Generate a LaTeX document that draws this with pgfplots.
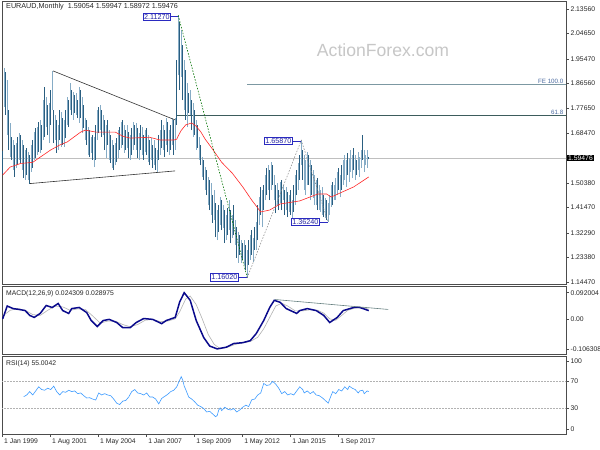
\documentclass[border=0pt]{standalone}
\usepackage{pgfplots}
\usepackage{pgfplotstable}
\pgfplotsset{compat=1.18}
\usepackage{fontspec}
\setmainfont{Liberation Sans}
\definecolor{barA}{HTML}{2A5E80}
\definecolor{barB}{HTML}{86ACC6}
\definecolor{maRed}{HTML}{FF2A2A}
\definecolor{boxBlue}{HTML}{2A2AC0}
\definecolor{lblBlue}{HTML}{4A6AA0}
\definecolor{fibo}{HTML}{3D5C5C}
\definecolor{fe}{HTML}{7C98A2}
\definecolor{macdNavy}{HTML}{0A0A8C}
\definecolor{rsiBlue}{HTML}{3C9BFF}
\newcommand{\tf}{\fontsize{6.8}{7.5}\selectfont}

\pgfplotstableread{
i l h
0 1.537 1.620
1 1.780 1.921
2 1.751 1.907
3 1.678 1.878
4 1.624 1.769
5 1.598 1.722
6 1.588 1.671
7 1.551 1.660
8 1.526 1.642
9 1.559 1.649
10 1.569 1.671
11 1.588 1.685
12 1.577 1.678
13 1.551 1.660
14 1.522 1.642
15 1.515 1.624
16 1.533 1.631
17 1.515 1.617
18 1.502 1.606
19 1.544 1.642
20 1.559 1.660
21 1.588 1.689
22 1.595 1.704
23 1.606 1.707
24 1.617 1.725
25 1.613 1.733
26 1.624 1.715
27 1.660 1.805
28 1.671 1.852
29 1.707 1.816
30 1.678 1.787
31 1.649 1.794
32 1.715 1.842
33 1.769 1.911
34 1.649 1.769
35 1.660 1.751
36 1.613 1.733
37 1.624 1.715
38 1.660 1.769
39 1.635 1.762
40 1.642 1.740
41 1.635 1.733
42 1.667 1.769
43 1.715 1.816
44 1.707 1.805
45 1.769 1.867
46 1.751 1.842
47 1.733 1.834
48 1.758 1.823
49 1.751 1.831
50 1.740 1.805
51 1.722 1.852
52 1.740 1.842
53 1.685 1.816
54 1.704 1.787
55 1.660 1.740
56 1.642 1.733
57 1.606 1.707
58 1.598 1.696
59 1.613 1.671
60 1.588 1.678
61 1.562 1.671
62 1.588 1.715
63 1.660 1.769
64 1.685 1.780
65 1.696 1.787
66 1.671 1.769
67 1.678 1.751
68 1.624 1.733
69 1.595 1.715
70 1.642 1.733
71 1.588 1.696
72 1.577 1.678
73 1.559 1.660
74 1.551 1.642
75 1.569 1.649
76 1.580 1.667
77 1.595 1.696
78 1.624 1.707
79 1.631 1.725
80 1.642 1.733
81 1.613 1.715
82 1.624 1.696
83 1.631 1.715
84 1.595 1.689
85 1.588 1.678
86 1.606 1.704
87 1.624 1.725
88 1.642 1.715
89 1.624 1.722
90 1.595 1.704
91 1.588 1.685
92 1.624 1.715
93 1.606 1.707
94 1.588 1.678
95 1.617 1.696
96 1.606 1.704
97 1.580 1.678
98 1.569 1.660
99 1.588 1.667
100 1.559 1.642
101 1.569 1.660
102 1.551 1.631
103 1.544 1.624
104 1.588 1.678
105 1.606 1.696
106 1.631 1.733
107 1.624 1.715
108 1.598 1.696
109 1.642 1.740
110 1.617 1.725
111 1.606 1.696
112 1.624 1.715
113 1.642 1.740
114 1.606 1.733
115 1.624 1.740
116 1.715 1.951
117 1.896 2.1127
118 1.842 2.089
119 1.889 2.059
120 1.805 2.005
121 1.769 1.951
122 1.733 1.914
123 1.707 1.867
124 1.758 1.831
125 1.751 1.842
126 1.696 1.805
127 1.671 1.794
128 1.678 1.769
129 1.624 1.733
130 1.631 1.715
131 1.588 1.671
132 1.569 1.642
133 1.526 1.598
134 1.515 1.588
135 1.479 1.562
136 1.460 1.551
137 1.424 1.526
138 1.406 1.515
139 1.388 1.504
140 1.359 1.460
141 1.370 1.479
142 1.308 1.431
143 1.297 1.406
144 1.326 1.424
145 1.352 1.453
146 1.333 1.442
147 1.341 1.424
148 1.286 1.406
149 1.297 1.388
150 1.315 1.413
151 1.333 1.442
152 1.286 1.406
153 1.304 1.388
154 1.315 1.424
155 1.279 1.370
156 1.232 1.344
157 1.214 1.326
158 1.243 1.315
159 1.214 1.297
160 1.225 1.286
161 1.206 1.297
162 1.188 1.279
163 1.1602 1.261
164 1.206 1.297
165 1.225 1.315
166 1.243 1.333
167 1.217 1.304
168 1.261 1.344
169 1.261 1.362
170 1.297 1.424
171 1.352 1.453
172 1.388 1.489
173 1.344 1.479
174 1.406 1.497
175 1.442 1.533
176 1.460 1.558
177 1.479 1.569
178 1.442 1.551
179 1.479 1.580
180 1.497 1.569
181 1.442 1.533
182 1.395 1.497
183 1.424 1.504
184 1.406 1.479
185 1.431 1.508
186 1.406 1.515
187 1.442 1.497
188 1.388 1.479
189 1.406 1.489
190 1.380 1.471
191 1.399 1.460
192 1.388 1.479
193 1.370 1.442
194 1.399 1.497
195 1.424 1.533
196 1.460 1.551
197 1.479 1.577
198 1.515 1.606
199 1.569 1.6587
200 1.515 1.624
201 1.479 1.606
202 1.460 1.588
203 1.497 1.617
204 1.497 1.606
205 1.442 1.588
206 1.460 1.569
207 1.449 1.551
208 1.424 1.533
209 1.424 1.515
210 1.406 1.522
211 1.406 1.497
212 1.399 1.479
213 1.388 1.489
214 1.380 1.460
215 1.377 1.449
216 1.370 1.442
217 1.3624 1.431
218 1.388 1.460
219 1.417 1.497
220 1.424 1.508
221 1.442 1.497
222 1.442 1.522
223 1.460 1.544
224 1.479 1.558
225 1.453 1.533
226 1.479 1.569
227 1.497 1.588
228 1.515 1.606
229 1.489 1.588
230 1.533 1.613
231 1.508 1.595
232 1.544 1.624
233 1.522 1.606
234 1.551 1.631
235 1.515 1.606
236 1.533 1.588
237 1.551 1.617
238 1.526 1.598
239 1.559 1.624
240 1.588 1.678
241 1.544 1.624
242 1.569 1.606
243 1.559 1.624
244 1.5897 1.5995
}\bars

\begin{document}
\begin{tikzpicture}[x=1pt,y=1pt]
\useasboundingbox (0,0) rectangle (600,450);
\fill[white] (0,0) rectangle (600,450);
% watermark
\node[font=\fontsize{17.6}{18}\selectfont, text=black!22] at (383,400) {ActionForex.com};

% ---------------- main price panel ----------------
\begin{axis}[name=main, at={(2pt,166pt)}, anchor=south west, scale only axis,
  width=564pt, height=283pt,
  xmin=-0.47, xmax=375.5, ymin=1.13744, ymax=2.16473,
  axis line style={black!70, line width=0.7pt},
  xtick=\empty,
  ytick={2.1356,2.0465,1.9547,1.8656,1.7765,1.6847,1.5038,1.4147,1.3229,1.2338,1.1447},
  yticklabels={2.13560,2.04650,1.95470,1.86560,1.77650,1.68470,1.50380,1.41470,1.32290,1.23380,1.14470},
  ytick pos=right, yticklabel pos=right, tick align=outside, major tick length=2.5pt,
  tick style={black!70, line width=0.5pt},
  yticklabel style={font=\tf, anchor=west, xshift=-1.5pt, text=black!85},
  clip=true]
  % current price line
  \addplot[black!25, line width=0.6pt, forget plot] coordinates {(-1,1.59476) (376,1.59476)};
  % fibo lines
  \addplot[fibo, line width=0.8pt, forget plot] coordinates {(116,1.7488) (376,1.7488)};
  \addplot[fe, line width=0.8pt, forget plot] coordinates {(163,1.8609) (376,1.8609)};
  % bars
  \addplot[draw=none, mark=none, forget plot,
    x filter/.expression={mod(x,2)==0 ? x : nan},
    error bars/.cd, y dir=plus, y explicit, error mark=none,
    error bar style={line width=1pt, color=barA}]
    table[x=i, y=l, y error expr=\thisrow{h}-\thisrow{l}] {\bars};
  \addplot[draw=none, mark=none, forget plot,
    x filter/.expression={mod(x,2)==0 ? nan : x},
    error bars/.cd, y dir=plus, y explicit, error mark=none,
    error bar style={line width=1pt, color=barB}]
    table[x=i, y=l, y error expr=\thisrow{h}-\thisrow{l}] {\bars};
  % moving average
  \addplot[maRed, line width=0.6pt, forget plot] coordinates {
    (0,1.533) (5,1.562) (12,1.575) (20,1.579) (25,1.598) (32,1.624) (38,1.642)
    (43,1.653) (52,1.689) (55,1.696) (62,1.689) (67,1.689) (75,1.689) (80,1.674)
    (85,1.667) (98,1.670) (105,1.660) (114,1.660) (116,1.663) (117,1.675) (119,1.695)
    (122,1.715) (126,1.722) (129,1.710) (132,1.690) (135,1.663) (140,1.626) (146,1.579)
    (153,1.540) (160,1.490) (166,1.442) (172,1.399) (178,1.406) (185,1.428) (198,1.439)
    (210,1.464) (216,1.464) (219,1.453) (225,1.468) (234,1.490) (244,1.526)};
  % trend lines
  \addplot[black!80, line width=0.6pt, forget plot] coordinates {(18.2,1.502) (115,1.548)};
  \addplot[black!80, line width=0.6pt, forget plot] coordinates {(33.5,1.911) (115,1.733)};
  \addplot[green!45!black, line width=0.6pt, dash pattern=on 1.5pt off 1.5pt, forget plot] coordinates {(117,2.1127) (163,1.1602)};
  \addplot[gray, line width=0.5pt, dash pattern=on 1.5pt off 1.5pt, forget plot] coordinates {(163,1.1602) (199,1.6587) (217,1.3624)};
  % labels
  \node[font=\fontsize{6.2}{7}\selectfont, text=lblBlue, anchor=south east, inner sep=1pt] at (axis cs:374.5,1.8609) {FE 100.0};
  \node[font=\fontsize{6.2}{7}\selectfont, text=lblBlue, anchor=south east, inner sep=1pt] at (axis cs:374.5,1.7488) {61.8};
  % price annotations
  \tikzset{pbox/.style={draw=boxBlue, fill=white, text=boxBlue!85!black, font=\fontsize{7.2}{8}\selectfont, inner sep=1.2pt, line width=0.6pt, anchor=east}}
  \node[pbox] at (axis cs:112.2,2.108) {2.11270};
  \draw[boxBlue, line width=0.6pt] (axis cs:112.2,2.108) -- (axis cs:117,2.108);
  \node[pbox] at (axis cs:193.5,1.6565) {1.65870};
  \draw[boxBlue, line width=0.6pt] (axis cs:193.5,1.6565) -- (axis cs:199,1.6565);
  \node[pbox] at (axis cs:211.5,1.3625) {1.36240};
  \draw[boxBlue, line width=0.6pt] (axis cs:211.5,1.3625) -- (axis cs:217,1.3625);
  \node[pbox] at (axis cs:157.5,1.161) {1.16020};
  \draw[boxBlue, line width=0.6pt] (axis cs:157.5,1.161) -- (axis cs:163,1.161);
\end{axis}
\node[anchor=west, fill=black, text=white, font=\tf, inner sep=1pt] at (567,292) {1.59476};
\node[anchor=base west, font=\fontsize{7.2}{8}\selectfont, text=black!85, inner sep=0pt] at (6,441) {EURAUD,Monthly\ \ 1.59054 1.59947 1.58972 1.59476};

% ---------------- MACD panel ----------------
\begin{axis}[name=macd, at={(2pt,96pt)}, anchor=south west, scale only axis,
  width=564pt, height=68pt,
  xmin=-0.47, xmax=375.5, ymin=-0.1239, ymax=0.1156,
  axis line style={black!70, line width=0.7pt},
  xtick=\empty,
  ytick={-0.106308,0,0.092004},
  yticklabels={-0.106308,0.00,0.092004},
  ytick pos=right, yticklabel pos=right, tick align=outside, major tick length=2.5pt,
  tick style={black!70, line width=0.5pt},
  yticklabel style={font=\tf, anchor=west, xshift=-1.5pt, text=black!85},
  clip=true]
  \addplot[black!30, line width=0.6pt, forget plot] coordinates {
    (0,0.010) (5,0.030) (10,0.036) (15,0.030) (20,0.015) (25,0.012) (30,0.030) (35,0.045)
    (40,0.042) (45,0.030) (50,0.035) (55,0.033) (60,0.010) (65,-0.015) (70,-0.008) (75,-0.008)
    (80,-0.020) (85,-0.028) (90,-0.020) (95,-0.005) (100,-0.002) (105,-0.010) (110,-0.008)
    (115,0.000) (118,0.025) (122,0.070) (125,0.080) (129,0.050) (133,0.000) (137,-0.055)
    (141,-0.090) (145,-0.105) (150,-0.100) (155,-0.090) (160,-0.085) (165,-0.080) (170,-0.065)
    (174,-0.035) (178,0.005) (182,0.045) (186,0.055) (190,0.045) (195,0.028) (200,0.028)
    (205,0.032) (210,0.030) (214,0.020) (218,0.000) (222,-0.005) (226,0.012) (230,0.030)
    (235,0.038) (240,0.040) (244,0.034)};
  \addplot[macdNavy, line width=1.5pt, forget plot] coordinates {
    (0,0.000) (3,0.045) (7,0.036) (11,0.033) (15,0.029) (18,0.012) (21,0.005) (25,0.019)
    (29,0.047) (33,0.040) (37,0.054) (40,0.029) (44,0.019) (46,0.036) (51,0.040) (56,0.022)
    (59,-0.006) (63,-0.027) (67,-0.006) (71,-0.002) (76,-0.013) (80,-0.031) (85,-0.031)
    (89,-0.013) (94,0.001) (100,-0.002) (106,-0.017) (109,-0.006) (115,0.005) (118,0.060)
    (121,0.092) (125,0.065) (129,-0.006) (134,-0.066) (138,-0.096) (143,-0.106) (149,-0.100)
    (154,-0.087) (160,-0.084) (165,-0.077) (169,-0.052) (174,-0.006) (178,0.040) (181,0.065)
    (185,0.058) (189,0.036) (196,0.019) (198,0.029) (203,0.036) (209,0.029) (214,0.012)
    (218,-0.013) (223,0.005) (227,0.029) (234,0.040) (238,0.040) (244,0.029)};
  \addplot[gray!80!teal, line width=0.6pt, forget plot] coordinates {(181.5,0.068) (257,0.033)};
\end{axis}
\node[anchor=base west, font=\tf, text=black!85, inner sep=0pt] at (6,154) {MACD(12,26,9) 0.024309 0.028975};

% ---------------- RSI panel ----------------
\begin{axis}[name=rsi, at={(2pt,16pt)}, anchor=south west, scale only axis,
  width=564pt, height=78pt,
  xmin=-0.47, xmax=375.5, ymin=-7.35, ymax=107.35,
  axis line style={black!70, line width=0.7pt},
  xtick={0,32,64,96,128,160,192,224},
  xticklabels={1 Jan 1999,1 Aug 2001,1 May 2004,1 Jan 2007,1 Sep 2009,1 May 2012,1 Jan 2015,1 Sep 2017},
  xtick pos=bottom,
  xticklabel style={font=\tf, anchor=north west, xshift=-2pt, yshift=1pt, text=black!85},
  ytick={0,30,70,100},
  yticklabels={0,30,70,100},
  ytick pos=right, yticklabel pos=right, tick align=outside, major tick length=2.5pt,
  tick style={black!70, line width=0.5pt},
  yticklabel style={font=\tf, anchor=west, xshift=-1.5pt, text=black!85},
  clip=true]
  \addplot[black!30, dash pattern=on 1.5pt off 1.5pt, line width=0.5pt, forget plot] coordinates {(-1,70) (376,70)};
  \addplot[black!30, dash pattern=on 1.5pt off 1.5pt, line width=0.5pt, forget plot] coordinates {(-1,30) (376,30)};
  \addplot[rsiBlue, line width=0.6pt, forget plot] coordinates {
    (14,47.5) (16,50) (18,55) (20,50) (22,56) (24,62) (26,58) (28,57) (30,60) (32,58) (34,63)
    (36,55) (38,50) (40,55) (42,54) (44,57) (46,55) (48,56) (50,52) (52,53) (54,49) (56,45.6)
    (58,46) (60,44) (62,42.6) (64,53) (66,50) (68,52) (70,50) (72,49) (74,44) (76,38) (78,36)
    (80,41) (82,42) (84,47) (86,55) (88,58) (90,53) (92,52) (94,50) (96,53) (98,47) (100,47)
    (102,44) (104,37) (106,45) (108,48) (110,51) (112,55) (114,57) (116,62) (118,72) (119,77)
    (120,72) (121,63) (122,58) (124,47) (126,44) (128,40) (130,35) (132,33) (134,30) (136,25)
    (138,26) (140,22) (142,18) (143,20) (144,28) (145,31) (146,27) (148,32) (150,29) (152,28)
    (154,30) (156,25) (158,28) (160,32) (162,35) (164,33) (166,43) (168,44) (170,50) (172,53)
    (173,60) (174,67) (176,64) (178,65) (180,70) (182,66) (184,60) (186,52) (188,55) (190,50)
    (192,52) (194,50) (196,56) (198,62) (200,58) (201,53) (203,56) (205,52) (207,55) (209,50)
    (211,49) (213,46) (215,42) (217,38) (218,44) (220,55) (222,52) (224,58) (226,56) (228,62)
    (230,58) (231,63) (233,60) (235,58) (237,53) (238,56) (240,57) (241,52) (243,56) (244,55)};
\end{axis}
\node[anchor=base west, font=\tf, text=black!85, inner sep=0pt] at (6,84) {RSI(14) 55.0042};
\end{tikzpicture}
\end{document}
